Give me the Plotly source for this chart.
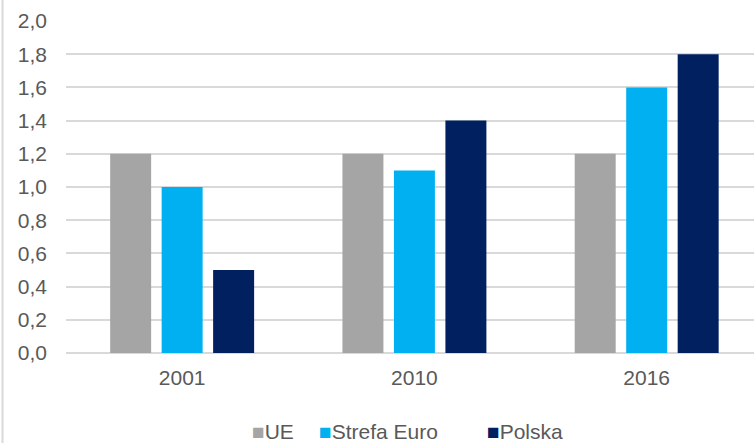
import plotly.graph_objects as go

categories = ["2001", "2010", "2016"]
ue = [1.2, 1.2, 1.2]
strefa_euro = [1.0, 1.1, 1.6]
polska = [0.5, 1.4, 1.8]
series_names = ["UE", "Strefa Euro", "Polska"]
colors = ["#A5A5A5", "#00B0F0", "#002060"]
y_ticks = [0.0, 0.2, 0.4, 0.6, 0.8, 1.0, 1.2, 1.4, 1.6, 1.8, 2.0]

W, H = 754, 443
ML, MR, MT, MB = 66, 0, 21, 90
PW, PH = W - ML - MR, H - MT - MB
font_color = "#595959"
font_family = "Liberation Sans, Arial, sans-serif"
FS = 21

fig = go.Figure()
for name, vals, col in zip(series_names, [ue, strefa_euro, polska], colors):
    fig.add_trace(go.Bar(
        x=categories, y=vals, name=name, showlegend=False,
        marker=dict(color=col, line=dict(width=0)),
    ))

# legend built from text: coloured square + series name
legend_left_px = [250, 317, 485]
annotations = []
for name, col, lx in zip(series_names, colors, legend_left_px):
    annotations.append(dict(
        xref="paper", yref="paper",
        x=(lx - ML) / PW, y=-(431 - (H - MB)) / PH,
        xanchor="left", yanchor="middle", showarrow=False,
        text=f'<span style="color:{col}">■</span>{name}',
        font=dict(family=font_family, size=FS, color=font_color),
    ))

fig.update_layout(
    width=W, height=H,
    margin=dict(l=ML, r=MR, t=MT, b=MB, pad=0, autoexpand=False),
    paper_bgcolor="white", plot_bgcolor="white",
    barmode="group", bargap=0.335, bargroupgap=0.204,
    separators=", ",
    font=dict(family=font_family, size=FS, color=font_color),
    showlegend=False,
    xaxis=dict(
        type="category", range=[-0.5, 2.462], automargin=False,
        showgrid=False, showline=False, zeroline=False,
        ticks="", ticklabelstandoff=10,
        tickfont=dict(size=FS, color=font_color),
    ),
    yaxis=dict(
        range=[0, 2.0], tickvals=y_ticks, tickformat=".1f", automargin=False,
        showgrid=True, gridcolor="#D9D9D9", gridwidth=1.5,
        zeroline=True, zerolinecolor="#D9D9D9", zerolinewidth=1.5,
        showline=False, ticks="", ticklabelstandoff=18,
        tickfont=dict(size=FS, color=font_color),
    ),
    annotations=annotations,
    shapes=[dict(
        type="line", xref="paper", yref="paper",
        x0=(2.5 - ML) / PW, x1=(2.5 - ML) / PW,
        y0=-MB / PH, y1=1 + MT / PH,
        line=dict(color="#D9D9D9", width=2),
    )],
)

fig.write_html(
    "out.html",
    config={"displayModeBar": False},
    post_script="document.body.style.margin='0';document.body.style.overflow='hidden';",
)
